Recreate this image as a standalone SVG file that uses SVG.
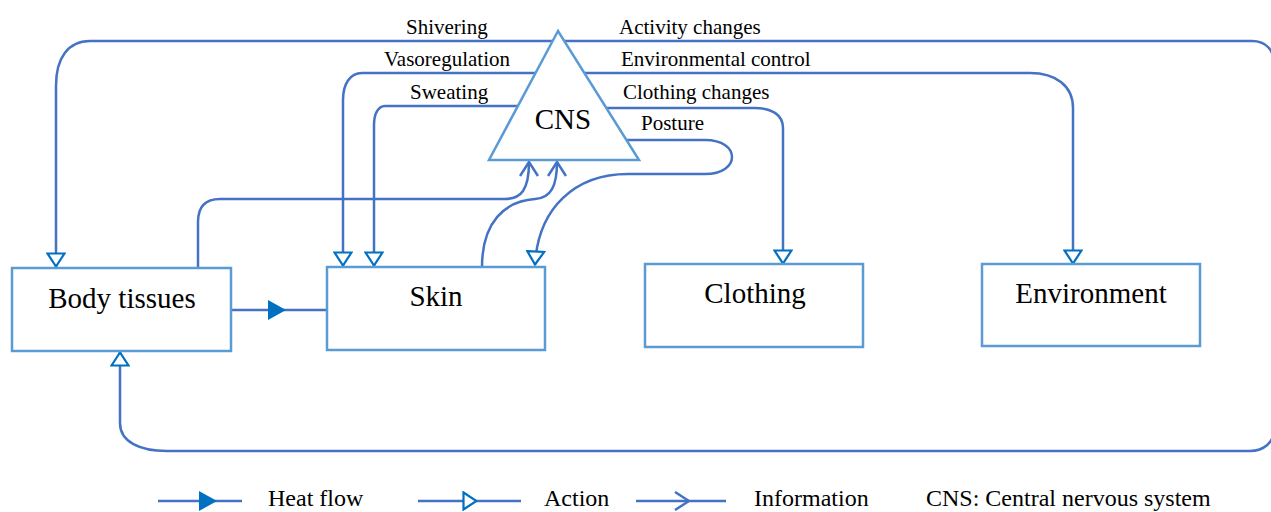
<svg xmlns="http://www.w3.org/2000/svg" width="1271" height="512" viewBox="0 0 1271 512">
<style>
.ln{fill:none;stroke:#4472C4;stroke-width:2.5}
.box{fill:#ffffff;stroke:#5B9BD5;stroke-width:2.5}
.big{font-family:"Liberation Serif","Times New Roman",serif;font-size:29px;fill:#000;text-anchor:middle}
.sm{font-family:"Liberation Serif","Times New Roman",serif;font-size:21px;fill:#000}
.lg{font-family:"Liberation Serif","Times New Roman",serif;font-size:24px;fill:#000}
</style>
<defs>
<marker id="act" viewBox="0 0 16 20" refX="15" refY="10" markerWidth="16" markerHeight="20" orient="auto" markerUnits="userSpaceOnUse">
<path d="M1.5,1.5 L14.5,10 L1.5,18.5 Z" fill="#ffffff" stroke="#0070C0" stroke-width="2.2"/>
</marker>
<marker id="heat" viewBox="0 0 18 20" refX="18" refY="10" markerWidth="18" markerHeight="20" orient="auto" markerUnits="userSpaceOnUse">
<path d="M0,0 L18,10 L0,20 Z" fill="#0070C0"/>
</marker>
<marker id="info" viewBox="0 0 16 20" refX="15" refY="10" markerWidth="16" markerHeight="20" orient="auto" markerUnits="userSpaceOnUse">
<path d="M1,1 L15,10 L1,19" fill="none" stroke="#4472C4" stroke-width="2.5"/>
</marker>
</defs>
<rect width="1271" height="512" fill="#ffffff"/>
<g id="connectors">
<!-- Shivering -->
<path class="ln" d="M556,41 L90,41 C68,41 56,58 56,86 L56,267" marker-end="url(#act)"/>
<!-- Activity changes loop to body tissues bottom -->
<path class="ln" d="M560,41 L1252,41 C1266,41 1274,50 1274,64 L1274,430 C1274,442 1264,451 1250,451 L167,451 C140,451 120,442 120,423 L120,352" marker-end="url(#act)"/>
<!-- Vasoregulation -->
<path class="ln" d="M545,73 L362,73 C350,73 343,84 343,100 L343,266" marker-end="url(#act)"/>
<!-- Sweating -->
<path class="ln" d="M530,106 L385,106 C378,106 374,114 374,125 L374,266" marker-end="url(#act)"/>
<!-- Environmental control -->
<path class="ln" d="M570,73 L1030,73 C1056,73 1073,86 1073,108 L1073,264" marker-end="url(#act)"/>
<!-- Clothing changes -->
<path class="ln" d="M590,108 L755,108 C772,108 783,115 783,128 L783,264" marker-end="url(#act)"/>
<!-- Posture -->
<path class="ln" d="M600,140 L705,140 C741,140 741,174 705,174 L628,174 C575,174 538,208 535,265" marker-end="url(#act)"/>
<!-- Body tissues to CNS -->
<path class="ln" d="M198,268 L198,222 C198,207 205,199 220,199 L505,199 C521,199 529,190 529,162" marker-end="url(#info)"/>
<!-- Skin to CNS -->
<path class="ln" d="M482,267 C482,222 505,201 535,199 C551,198 557,186 557,162" marker-end="url(#info)"/>
<!-- Heat flow body tissues to skin -->
<path class="ln" d="M231,310 L286,310" marker-end="url(#heat)"/>
<path class="ln" d="M286,310 L327,310"/>
</g>
<g id="cns">
<path d="M558,31 L489,160 L639,160 Z" fill="#ffffff" stroke="#5B9BD5" stroke-width="2.5" stroke-linejoin="miter"/>
<text class="big" x="563" y="129">CNS</text>
</g>
<g id="body-tissues">
<rect class="box" x="12" y="268" width="219" height="83"/>
<text class="big" x="122" y="308">Body tissues</text>
</g>
<g id="skin">
<rect class="box" x="327" y="267" width="218" height="83"/>
<text class="big" x="436" y="306">Skin</text>
</g>
<g id="clothing">
<rect class="box" x="645" y="264" width="218" height="83"/>
<text class="big" x="755" y="303">Clothing</text>
</g>
<g id="environment">
<rect class="box" x="982" y="264" width="218" height="82"/>
<text class="big" x="1091" y="303">Environment</text>
</g>
<g id="labels">
<text class="sm" x="406" y="34">Shivering</text>
<text class="sm" x="384" y="66">Vasoregulation</text>
<text class="sm" x="410" y="99">Sweating</text>
<text class="sm" x="619" y="34">Activity changes</text>
<text class="sm" x="621" y="66">Environmental control</text>
<text class="sm" x="623" y="99">Clothing changes</text>
<text class="sm" x="641" y="130">Posture</text>
</g>
<g id="legend">
<path class="ln" d="M158,501 L217,501" marker-end="url(#heat)"/>
<path class="ln" d="M217,501 L242,501"/>
<text class="lg" x="268" y="506">Heat flow</text>
<path class="ln" d="M418,501 L477,501" marker-end="url(#act)"/>
<path class="ln" d="M477,501 L521,501"/>
<text class="lg" x="544" y="506">Action</text>
<path class="ln" d="M636,501 L689,501" marker-end="url(#info)"/>
<path class="ln" d="M689,501 L726,501"/>
<text class="lg" x="754" y="506">Information</text>
<text class="lg" x="926" y="506">CNS: Central nervous system</text>
</g>
</svg>
